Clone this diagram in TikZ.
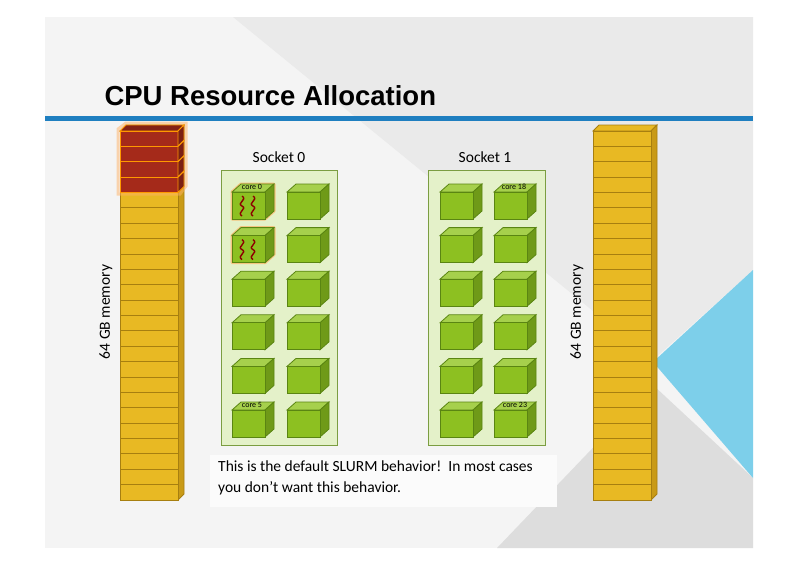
\documentclass[tikz,border=0pt]{standalone}
\usepackage{fontspec}
\setmainfont{Liberation Sans}
\newfontfamily\narrowf{Carlito}
\begin{document}
\begin{tikzpicture}[x=1pt,y=-1pt,
  mem/.style={fill=memY,draw=memB,line width=0.8pt},
  hot/.style={fill=memR,draw=orange!80!yellow,line width=0.9pt},
  pics/cube/.style={code={
    \fill[cubeT,draw=cubeB,line width=0.8pt] (0,0)--(9,-8)--(42,-8)--(33,0)--cycle;
    \fill[cubeS,draw=cubeB,line width=0.8pt] (33,0)--(42,-8)--(42,19)--(33,27)--cycle;
    \fill[cubeF,draw=cubeB,line width=0.8pt] (0,0) rectangle (33,27);
  }},
  pics/hotcube/.style={code={
    \draw[orange!70,line width=3pt,opacity=0.6,line join=round] (0,0)--(9,-8)--(42,-8)--(42,19)--(33,27)--(0,27)--cycle;
    \pic{cube};
    \foreach \dx in {10,21}{\draw[red!55!black,line width=1.4pt] (\dx,4) .. controls (\dx+6,8) and (\dx-6,11) .. (\dx,14) .. controls (\dx+6,17) and (\dx-6,20) .. (\dx,24);}
  }},
  lbl/.style={font=\fontsize{8}{9}\selectfont\narrowf}]
\definecolor{memY}{HTML}{E8B923}\definecolor{memB}{HTML}{A77F10}\definecolor{memS}{HTML}{C99A16}
\definecolor{memR}{HTML}{A52A1A}
\definecolor{cubeF}{HTML}{8DC021}\definecolor{cubeT}{HTML}{A6D04C}\definecolor{cubeS}{HTML}{6F9A18}\definecolor{cubeB}{HTML}{5A8512}
\definecolor{bgG}{HTML}{F4F4F4}\definecolor{bgG2}{HTML}{EAEAEA}\definecolor{bgG3}{HTML}{DDDDDD}
\definecolor{bluL}{HTML}{1F7FC0}\definecolor{skyB}{HTML}{7DCFEA}
\useasboundingbox (0,0) rectangle (800,566);
\fill[white] (0,0) rectangle (800,566);
\fill[bgG] (45,17) rectangle (753,548);
\fill[bgG2] (233,17)--(753,17)--(753,270)--(653,360)--cycle;
\fill[bgG3] (497,548)--(653,385)--(753,478)--(753,548)--cycle;
\fill[skyB] (753,270)--(653,362)--(753,478)--cycle;
\fill[bluL] (45,116) rectangle (753,121);
\node[anchor=base west,font=\fontsize{27.5}{30}\selectfont\bfseries] (title) at (101,105) {CPU Resource Allocation};
% memory stacks
\foreach \mx/\nm in {120/L,593/R}{
  \fill[memY,draw=memB,line width=0.8pt] (\mx,131)--(\mx+6,125)--(\mx+64,125)--(\mx+58,131)--cycle;
  \fill[memS,draw=memB,line width=0.8pt] (\mx+58,131)--(\mx+64,125)--(\mx+64,494)--(\mx+58,500)--cycle;
  \foreach \i in {0,...,23}{\draw[mem] (\mx,131+\i*15.375) rectangle (\mx+58,131+\i*15.375+15.375);}
}
\draw[orange!60,line width=3pt,opacity=0.5] (118,194)--(118,129)--(126,123)--(186,123)--(186,186)--(180,194)--cycle;
\fill[memR!80!black,draw=orange!80!yellow,line width=0.8pt] (120,131)--(126,125)--(184,125)--(178,131)--cycle;
\foreach \i in {0,...,3}{
  \draw[hot] (120,131+\i*15.375) rectangle (178,131+\i*15.375+15.375);
  \draw[hot,fill=memR!75!black] (178,131+\i*15.375)--(184,125+\i*15.375)--(184,125+\i*15.375+15.375)--(178,131+\i*15.375+15.375)--cycle;}
\node[rotate=90,font=\fontsize{15.5}{17}\selectfont\narrowf] (m0) at (106,312) {64 GB memory};
\node[rotate=90,font=\fontsize{15.5}{17}\selectfont\narrowf] (m1) at (577,312) {64 GB memory};
% sockets
\node[font=\fontsize{15.5}{17}\selectfont\narrowf] (s0l) at (279,157) {Socket 0};
\node[font=\fontsize{15.5}{17}\selectfont\narrowf] (s1l) at (485,157) {Socket 1};
\node[draw=cubeB!80,line width=0.8pt,fill=cubeT!30,minimum width=116pt,minimum height=275pt,inner sep=0pt] (s0) at (279,307.5) {};
\node[draw=cubeB!80,line width=0.8pt,fill=cubeT!30,minimum width=117pt,minimum height=275pt,inner sep=0pt] (s1) at (486.5,307.5) {};
\foreach \r in {0,...,5}{
  \pgfmathsetmacro\yy{192+\r*43.6}
  \ifnum\r>1 \pic at (232,\yy) {cube}; \fi
  \pic at (287,\yy) {cube};
  \pic at (440,\yy) {cube};
  \pic at (494,\yy) {cube};
}
\pic at (232,192) {hotcube};
\pic at (232,235.6) {hotcube};
\node[lbl] (c0) at (252,187) {core 0};
\node[lbl] (c5) at (252,405) {core 5};
\node[lbl] (c18) at (514,187) {core 18};
\node[lbl] (c23) at (515,405) {core 23};
% note
\fill[bgG!40!white] (210,455) rectangle (557,507);
\node[anchor=north west,align=left,font=\fontsize{15.5}{21}\selectfont\narrowf,inner sep=0pt] (note) at (218,461) {This is the default SLURM behavior!\ \ In most cases\\you don’t want this behavior.};
\end{tikzpicture}
\end{document}
